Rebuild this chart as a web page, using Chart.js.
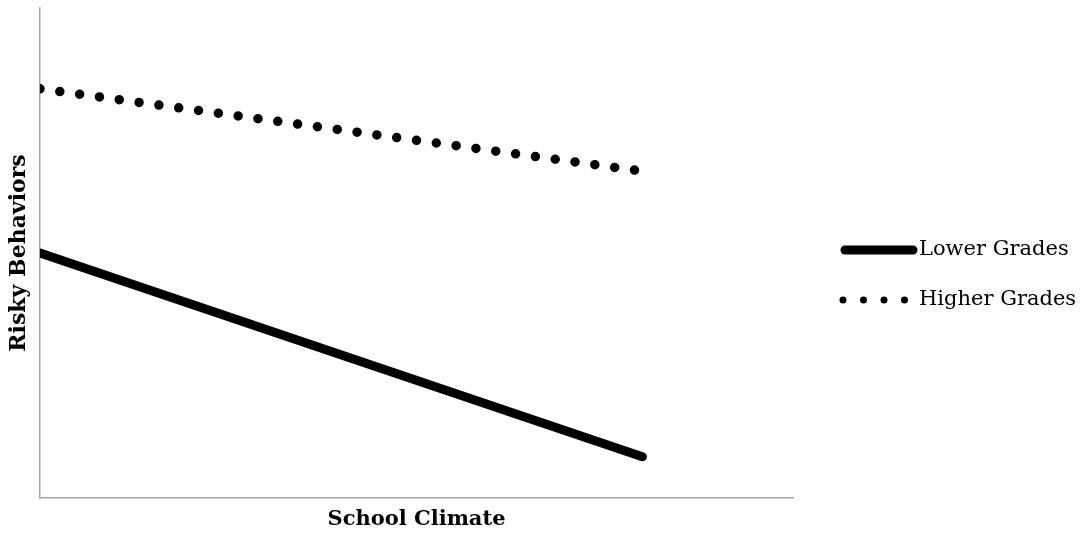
<!DOCTYPE html>
<html>
<head>
<meta charset="utf-8">
<script src="https://cdn.jsdelivr.net/npm/chart.js@4.4.1/dist/chart.umd.min.js"></script>
<style>
  html, body { margin: 0; padding: 0; background: #fff; }
  #wrap { width: 1088px; height: 533px; }
</style>
</head>
<body>
<div id="wrap"><canvas id="climateChart"></canvas></div>
<script>
// Podaci
const climatePoints = [0, 1];
const seriesNames = ['Lower Grades', 'Higher Grades'];
const lowerGrades = [5.0, 0.84];
const higherGrades = [8.35, 6.67];

const serif = "'DejaVu Serif', 'Liberation Serif', serif";

// Legenda sa strane (linije kao u originalu)
const sideLegend = {
    id: 'sideLegend',
    afterDraw(chart) {
        const ctx = chart.ctx;
        const x0 = 843, x1 = 911, tx = 919;
        const rows = [250, 300];
        ctx.save();
        chart.data.datasets.forEach((ds, i) => {
            const y = rows[i];
            ctx.strokeStyle = ds.borderColor;
            ctx.lineCap = 'round';
            if (ds.borderDash && ds.borderDash.length) {
                ctx.lineWidth = 7;
                ctx.setLineDash([0, 20.5]);
                ctx.beginPath();
                ctx.moveTo(x0, y);
                ctx.lineTo(x1, y);
                ctx.stroke();
            } else {
                ctx.lineWidth = ds.borderWidth;
                ctx.setLineDash([]);
                ctx.beginPath();
                ctx.moveTo(x0 + 2, y);
                ctx.lineTo(x1 + 2, y);
                ctx.stroke();
            }
            ctx.setLineDash([]);
            ctx.fillStyle = '#000';
            ctx.font = '21px ' + serif;
            ctx.textBaseline = 'middle';
            ctx.textAlign = 'left';
            ctx.fillText(ds.label, tx, y);
        });
        ctx.restore();
    }
};

const ctx = document.getElementById('climateChart').getContext('2d');
new Chart(ctx, {
    type: 'line',
    data: {
        datasets: [{
            label: seriesNames[0],
            data: climatePoints.map((x, i) => ({ x: x, y: lowerGrades[i] })),
            borderColor: '#000',
            borderWidth: 9,
            borderCapStyle: 'round',
            pointRadius: 0,
            fill: false
        }, {
            label: seriesNames[1],
            data: climatePoints.map((x, i) => ({ x: x, y: higherGrades[i] })),
            borderColor: '#000',
            borderWidth: 9.5,
            borderDash: [0, 20],
            borderCapStyle: 'round',
            pointRadius: 0,
            fill: false
        }]
    },
    options: {
        responsive: true,
        maintainAspectRatio: false,
        animation: false,
        layout: { padding: { top: 8, right: 295, bottom: 0, left: 0 } },
        plugins: {
            legend: { display: false },
            tooltip: { enabled: false }
        },
        scales: {
            x: {
                type: 'linear',
                min: 0,
                max: 1.25,
                grid: { display: false, drawTicks: false },
                border: { color: '#a6a6a6', width: 1.5 },
                ticks: { display: false },
                title: {
                    display: true,
                    text: 'School Climate',
                    color: '#000',
                    font: { family: serif, size: 21, weight: 'bold' },
                    padding: { top: 0, bottom: 1 }
                },
                afterFit(scale) { scale.height = 35; }
            },
            y: {
                min: 0,
                max: 10,
                grid: { display: false, drawTicks: false },
                border: { color: '#a6a6a6', width: 1.5 },
                ticks: { display: false },
                title: {
                    display: true,
                    text: 'Risky Behaviors',
                    color: '#000',
                    font: { family: serif, size: 22, weight: 'bold' },
                    padding: { top: 6, bottom: 0 }
                },
                afterFit(scale) { scale.width = 40; }
            }
        }
    },
    plugins: [sideLegend]
});
</script>
</body>
</html>
